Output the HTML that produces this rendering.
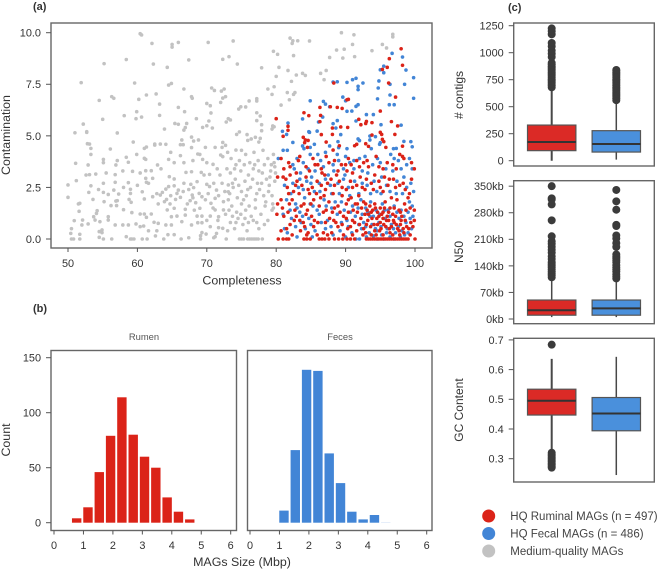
<!DOCTYPE html>
<html lang="en">
<head>
<meta charset="utf-8">
<title>MAGs quality chart</title>
<style>
html,body{margin:0;padding:0;background:#fff;}
svg{display:block;font-family:"Liberation Sans",Arial,sans-serif;}
text{fill:#333;}
</style>
</head>
<body>
<svg id="chart" width="660" height="570" viewBox="0 0 660 570" xmlns="http://www.w3.org/2000/svg">
  <text x="33" y="10" font-size="11" font-weight="bold">(a)</text>
  <text x="33" y="312" font-size="11" font-weight="bold">(b)</text>
  <text x="508" y="11" font-size="11" font-weight="bold">(c)</text>
  <text transform="translate(10,135) rotate(-90)" text-anchor="middle" font-size="12.4">Contamination</text>
  <text x="242" y="284.5" text-anchor="middle" font-size="12.4">Completeness</text>
  <text transform="translate(10,440) rotate(-90)" text-anchor="middle" font-size="12.4">Count</text>
  <text x="242" y="566" text-anchor="middle" font-size="12.4">MAGs Size (Mbp)</text>
  <text x="144" y="340" text-anchor="middle" font-size="9.4" style="fill:#555">Rumen</text>
  <text x="340" y="340" text-anchor="middle" font-size="9.4" style="fill:#555">Feces</text>
  <text transform="translate(463,95) rotate(-90)" text-anchor="middle" font-size="12">&#35; contigs</text>
  <text transform="translate(463,252) rotate(-90)" text-anchor="middle" font-size="12">N50</text>
  <text transform="translate(463,410) rotate(-90)" text-anchor="middle" font-size="12">GC Content</text>
  <g>
    <circle cx="488.7" cy="516" r="6.5" fill="#db2318"/>
    <text x="510.3" y="520" font-size="11.5" style="fill:#444">HQ Ruminal MAGs (n = 497)</text>
    <circle cx="488.7" cy="533.5" r="6.5" fill="#4285d6"/>
    <text x="510.3" y="537.5" font-size="11.5" style="fill:#444">HQ Fecal MAGs (n = 486)</text>
    <circle cx="488.7" cy="551" r="6.5" fill="#c2c2c2"/>
    <text x="510.3" y="555" font-size="11.5" style="fill:#444">Medium-quality MAGs</text>
  </g>
</svg>
<script>
const grayPoints=[[51,5.15],[51.9,7.58],[55.2,8.5],[58.4,8.7],[60.4,9.95],[60.6,9.89],[62.1,9.48],[62.3,8.48],[64.3,8.32],[65,9.43],[65,9.3],[65.9,9.53],[70.2,9.53],[67.4,8.68],[72.3,8.71],[73.2,8.84],[59.6,7.56],[64.5,7.46],[64.9,7.54],[66.7,7.27],[70.7,7.32],[71.1,7.2],[72.1,7.17],[72.5,7.27],[61.3,6.98],[62.7,7.03],[54.5,6.72],[56.3,6.9],[56.6,6.82],[60.2,6.77],[63.2,6.54],[67.8,6.9],[67.9,6.82],[72.3,6.83],[72.7,6.9],[72,6.62],[70,6.57],[70.5,6.46],[65.9,6.38],[66.8,6.17],[70.6,6.11],[59.9,6.17],[58.1,5.98],[63.2,5.99],[60.6,5.91],[59.8,5.83],[55,5.8],[52.2,5.57],[68.5,5.83],[70.3,5.72],[65.4,5.6],[65.9,5.56],[67.1,5.6],[69.4,5.41],[70,5.49],[70.8,5.38],[63.9,5.33],[66.7,5.28],[66.9,5.4],[52.7,5.2],[52.7,5.17],[57.1,5.14],[67.8,4.94],[68.8,4.8],[68.1,4.75],[66.4,4.8],[59.4,4.7],[72.3,4.68],[52.8,4.62],[53.1,4.6],[62.5,4.6],[63.3,4.6],[64.1,4.59],[66.2,4.57],[66.6,4.57],[61,4.39],[61.3,4.46],[53.3,4.39],[56.1,4.36],[62.5,4.55],[67.8,4.43],[69.8,4.44],[71.2,4.44],[72.2,4.44],
[73.8,9.6],[74.4,8.48],[82,9.74],[82.4,9.61],[82.3,9.48],[83.1,9.61],[84.8,9.6],[89.4,10],[91.2,9.9],[96.8,9.92],[96.8,9.8],[91,9.43],[95.3,9.43],[95.9,9.26],[89.8,9.2],[88.7,9.16],[93.8,9.13],[79.6,9.1],[80.2,8.95],[82.5,8.89],[87.7,8.8],[89.6,8.77],[91.3,8.84],[77.9,8.3],[80.4,8.32],[81.7,8.17],[87.2,8.17],[86.4,8.03],[82.9,7.95],[83.8,8.03],[84.2,7.93],[80,7.88],[86.9,7.72],[82.2,7.64],[79.7,7.38],[78.8,7.27],[79.4,7.01],[81.6,7.1],[82.7,7.1],[82.5,7.01],[81.9,6.75],[77.2,6.8],[77.2,6.69],[76.1,6.69],[80.7,6.49],[75.6,6.4],[74.9,6.41],[74.6,6.3],[77.2,6.12],[77.7,5.96],[73.1,5.83],[73.4,5.77],[72.8,5.67],[77.2,5.74],[77.9,5.54],[79.5,5.48],[79.7,5.44],[79.4,5.33],[77.9,5.25],[74.7,5.19],[74.3,5.07],[75.8,5.06],[77.7,4.88],[77,4.93],[76.4,4.85],[75.9,4.78],[77.5,4.7],[72.7,4.54],[74.2,4.31],
[53.3,4.1],[51.1,3.67],[51.2,2.83],[50,2.62],[50,2.02],[52.9,3.59],[55.1,3.86],[55.1,3.7],[57.1,3.8],[56.9,3.59],[58.4,3.96],[58.7,3.72],[59.9,4.1],[61.2,3.86],[61,3.91],[62.9,3.59],[64.5,3.86],[65.3,3.7],[66.2,4.04],[66.7,3.7],[68.7,4.12],[69.4,3.86],[70,3.7],[70.9,3.62],[72,4.07],[72.3,3.99],[52.6,3.1],[53.1,3.12],[54,3.15],[56.8,3.12],[59.3,3.28],[61.2,3.31],[62,3.31],[64.6,3.02],[65.3,2.91],[67,3.23],[67.8,3.26],[69.2,3.23],[69.6,3.1],[70.4,3.13],[56.8,2.75],[55.1,2.7],[53.3,2.58],[58.7,2.73],[61.3,2.75],[61.6,2.7],[62.2,2.94],[61.2,2.94],[53,2.26],[56.6,2.37],[55.1,2.26],[55.8,2.16],[57.3,2.18],[59,2.41],[59,2.21],[60.7,2.29],[64.5,2.54],[65.3,2.58],[64.1,2.42],[63.6,2.26],[63.3,2.13],[65.9,2.37],[65.7,2.21],[66.7,2.7],[67.7,2.65],[68.6,2.78],[68.1,2.49],[70,2.65],[70.4,2.54],[71.4,2.37],[72.2,2.7],[73.1,2.62],[73.1,2.29],[68.9,2.21],[69.3,2.05],[67.9,2.13],[53.6,1.92],[55.2,1.81],[57.1,1.86],[56.9,1.84],[58.8,1.92],[59.1,1.78],[61,1.94],[62.2,2.05],[64.2,1.92],[63.9,1.81],[65.5,1.92],[66.2,2.02],[67.6,1.86],[68.4,1.76],[70.6,1.73],[71.2,1.97],[72.4,1.81],[51.5,1.7],[51.7,1.73],[56.2,1.62],[57,1.62],[58,1.42],[59.2,1.28],[51.6,1.34],[54.2,1.37],[54.1,1.24],[53.7,1.08],[55.8,1.08],[55.8,.92],[60.4,1.21],[61,1.21],[61.3,1.05],[62,1.21],[64.3,1.41],[65.3,1.49],[66.9,1.44],[66.9,1.16],[64.9,1.08],[65.7,1.11],[68.6,1.11],[69.3,1.11],[70.5,1.11],[69,1.49],[71.2,1.41],[72.4,1.41],[71.7,1.08],[53.9,.92],[54.6,.84],[50.9,.89],[52.1,.92],[52,.68],[52.9,.73],[56.8,.68],[57.9,.68],[58.7,.68],[59.8,.73],[60.4,.6],[60.9,.63],[62.4,.81],[63,.76],[64.1,.68],[64.9,.68],[66.4,.84],[67.8,.68],[68.7,.79],[69.3,.79],[70.5,.6],[50.5,.5],[50.4,.27],[51.7,.23],[54.5,.36],[54.9,.44],[54.9,.31],[61.6,.4],[62.8,.4],[62.6,.15],[64.4,.21],[65.3,.21],[69.3,.31],[69.1,.16],[69.9,.24],[71.7,.55],[72.3,.52],[71.2,.11],[71.4,.27],[50.5,0],[50.8,0],[51.7,0],[54.5,.08],[55.1,0],[56.3,0],[58.4,.11],[59,0],[59.2,0],[59.5,0],[60.7,0],[61.4,0],[63.8,0],[66.3,0],[67.4,.06],[69.1,0],[71,.06],[72.8,0],
[73.5,3.9],[74.2,3.6],[75,4.3],[75.6,4.1],[76.2,3.7],[76.8,4.2],[77.4,3.8],[78.1,4.3],[78.8,3.9],[79.3,3.6],[79.6,4.1],[73.4,3.2],[74.1,2.9],[74.9,3.3],[75.5,2.8],[76,3.1],[76.7,3.4],[77.3,2.7],[78,3.2],[78.6,2.9],[79.2,3.3],[79.7,3.7],[79.8,3.5],[73.3,2.2],[73.8,2.5],[74.4,2],[75,2.3],[75.7,2.1],[76.3,2.5],[77,1.9],[77.6,2.4],[78.2,2.1],[79,2.6],[79.5,1.7],[73.6,1.6],[74.3,1.3],[75,1.7],[75.6,1.4],[76.4,1.1],[77,1.5],[77.8,1.2],[78.4,1.6],[79.4,1.4],[79.6,1.5],[73.4,.8],[74,.5],[74.5,1],[75.2,.7],[75.8,.4],[76.7,.9],[77.5,.5],[78.3,.7],[78.8,.9],[74.7,0],[75,0],[75.3,0],[75.9,0],[76.2,0],[76.5,0],[76.8,0],[77.1,0],[77.4,0],[78,0],
[72.9,3.4],[73.1,1.9],[73.7,2.7],[74,3.4],[74.6,2.6],[74.7,3.8],[75.3,1.9],[75.4,3.6],[75.9,2.4],[76.1,1.6],[76.6,2.9],[76.9,3.6],[77.2,2.2],[77.5,3.3],[77.9,2.7],[78.3,3.6],[78.5,1.8],[78.9,2.3],[79.1,3],[79.4,2.1],[79.8,2.8],[79.9,3.2],[72.7,1.2],[73,.4],[73.2,1.4],[73.7,1.1],[74.2,.8],[74.9,1.2],[75.5,1],[76,.8],[77.2,.8],[67.2,1.7],[68.2,1.4],[67.4,2.4],[69.8,1.9],[70.2,2.2],[71,2.7],[71.7,2.1],[71.9,3.1],[72.6,2.3],[70.9,1.5],[71.6,.9],[70,.9],[68,2],[66.6,2.3],[64.8,2.1],[64.7,1.7],[63,1.7],[62.8,2.2],[60,2.6],[58,2.5],[57.9,3.3],[60.4,3.2],[63.4,3.4],[68,3.8],[71.5,3.4],[73,4.2],[69,4.1],[64.8,4.2],[55.5,3.2],[54.4,2.4]];
const bluePoints=[[96.7,9],[98.2,8.82],[98.7,8.19],[95,8.2],[95.5,8.38],[95.5,8.06],[99.8,7.82],[94.8,7.66],[98.5,7.5],[96.4,7.5],[92.5,7.56],[91.8,7.4],[91.8,7.24],[90.2,7.59],[91,7.72],[91.5,7.79],[88.2,7.61],[88.8,7.62],[94.7,7.32],[96.4,6.98],[99.8,6.82],[94.6,6.79],[89.6,6.88],[90,6.7],[84.9,6.7],[86.8,6.67],[87.1,6.54],[87.7,6.41],[91.8,6.51],[91.5,6.43],[90.2,6.19],[90.9,6.2],[96.3,6.51],[97,6.51],[93,6.03],[94,6.03],[83.8,5.82],[86.7,5.91],[86.1,5.67],[88.8,5.74],[88.2,5.59],[88.6,5.38],[91.5,5.72],[95.1,5.54],[98,5.52],[81.7,5.62],[80.9,5.22],[81.5,5.07],[82.4,4.68],[84.7,5.2],[84.8,5.17],[85.9,5.23],[89.3,5.06],[91.8,4.85],[92,4.77],[93.5,4.99],[93.5,4.8],[94.3,4.96],[94.9,4.59],[95,4.67],[98.4,4.73],[99.4,4.72],[99.6,4.47],[83.8,4.51],[84,4.38],[84.9,4.44],[85.5,4.59],[87.7,4.51],[88.9,4.72],[89,4.43],[90.2,4.38],[93.7,4.38],[96.9,4.38],[97.3,4.39],
[80.3,3.9],[81,4.3],[81.6,4.3],[84.9,4.1],[86,4.1],[87.1,4.2],[88.8,4.1],[90,4],[91.2,3.8],[92.8,4],[95,3.7],[96.5,4.1],[97.6,3.8],[98.8,3.6],[99.6,3.4],[82.6,3.4],[83.5,3.2],[85.1,3],[86.8,3.5],[88.3,3.3],[89.9,3.1],[91.2,3.4],[93.2,3.2],[95.2,3],[96.8,3.3],[98.4,3],[81.2,2.6],[82.4,2.7],[83.9,2.4],[85,2.7],[86.3,2.3],[87.8,2.6],[89.1,2.2],[90.4,2.5],[91.9,2.2],[93.1,2.6],[94.5,2.3],[95.9,2.6],[97.3,2.2],[98.8,2.5],[99.4,2.7],[81.5,1.9],[82.8,1.7],[84.1,2],[85.3,1.6],[86.9,1.9],[88,1.5],[89.4,1.8],[91,1.6],[92.2,1.9],[92.9,1.5],[93.6,1.8],[94.4,1.4],[95.3,1.7],[96.1,1.4],[97,1.6],[98,1.4],[99.2,1.8],[99.6,1.6],[81,1.2],[82.2,1],[83.4,1.3],[84.7,1],[86.2,1.2],[87.4,.9],[88.8,1.2],[90.2,.9],[91.4,1.1],[92.6,.8],[93.5,1.1],[94.8,.8],[95.7,1],[96.6,.7],[97.7,1],[98.7,.8],[99.3,1],[81.2,.5],[81.6,.3],[84.2,.5],[85.6,.4],[87.1,.5],[89.2,.4],[90.9,.3],[92.3,.5],[93.4,.3],[94.5,.4],[95.2,.2],[96,.5],[97.2,.3],[98.1,.4],[99,.3],[91.5,0],[92,0],[94.6,0],[95.5,0],[97,0],
[82.4,3.6],[83,3.9],[83.9,3.7],[84.6,3.4],[85.6,3.3],[86.4,3.8],[87.5,3.1],[88.2,3.6],[89,3.8],[89.7,3.4],[90.6,3.7],[92,3.9],[92.4,3.3],[93.9,3.6],[94.6,3.9],[95.8,3.4],[97,3.9],[98,3.4],[99.2,3.9],[82.1,2.2],[83.2,2.5],[83.4,2.9],[84.4,2.8],[85.5,2.3],[86.2,2.7],[87.1,2.9],[88,2.2],[88.9,2.7],[89.7,2.9],[90.6,2.1],[91.3,2.8],[92.4,2.7],[93.6,2.2],[94.1,2.8],[95.1,2.2],[96.4,2.3],[97.4,2.8],[98.2,2.2],[99.8,2.3],[82,1.4],[83,1.5],[83.8,1.1],[84.9,1.7],[85.9,1.4],[87.2,1.6],[88.5,1.8],[89.8,1.4],[90.7,1.3],[91.8,1.5],[92.4,1.2],[93.2,1.3],[94,1.1],[94.9,1.2],[95.6,1.4],[96.4,1.1],[97.4,1.3],[98.4,1.1],[99,1.3],[99.7,1.1],[82.8,.6],[83.6,.8],[85,.7],[86.5,.8],[87.9,.6],[89.4,.8],[90.4,.6],[91.9,.7],[92.9,.6],[93.8,.7],[94.3,.5],[95.1,.6],[95.9,.3],[96.9,.5],[97.6,.6],[98.5,.2],[99.5,.5],[83,.1],[85.2,.1],[88.2,.2],[90,.1],[93,.1],[94,.15],[96.4,.1],[97.9,.1]];
const redPoints=[[98,9.22],[96.3,8.74],[98.2,8.42],[96,8.32],[95.3,8.22],[96.2,7.56],[88.3,7.56],[97.2,6.88],[90.2,6.75],[90.4,6.77],[86.3,6.38],[87.8,6.41],[88.8,6.38],[89.5,6.33],[95,6.2],[84,6.12],[84.7,5.98],[86.4,5.99],[80,5.83],[86.3,5.69],[91.9,5.8],[92.2,5.54],[92.9,5.6],[93,5.7],[93.8,5.64],[96.6,5.69],[97.5,5.48],[81.7,5.46],[81.7,5.27],[89.3,5.43],[90.3,5.41],[88.1,5.38],[86.5,5.06],[88.1,5.07],[81,4.98],[83.9,4.93],[84.2,4.8],[84.1,4.67],[84.6,4.78],[84.5,4.44],[87.2,4.7],[89.1,4.52],[88.2,4.31],[91.3,4.52],[91.6,4.59],[92.9,4.62],[93.3,4.49],[95,5.17],[95.2,5.07],[93.8,5.04],[95.3,4.83],[95.5,4.72],[95.8,4.44],[97.1,5.07],[98.2,4.5],
[80.7,3.9],[81.8,3.7],[82,3.5],[83.2,3.8],[83.4,4],[84.3,3.5],[85.3,3.9],[86,3.6],[87.2,4],[87.6,3.7],[88.4,3.8],[89.4,3.6],[90.4,3.9],[90.8,3.6],[92,3.5],[92.6,3.7],[93.3,3.5],[94.4,4],[95.4,3.4],[96.8,3.6],[97.8,4.1],[98.2,4],[99.9,3.4],[80.2,3],[81,3],[81.4,2.9],[82,3.1],[82.8,2.6],[83.7,2.6],[84.3,3],[85.2,2.5],[85.9,2.8],[86.6,3.2],[87.1,2.4],[87.9,2.9],[88.7,3.1],[89.5,2.5],[90.2,3.3],[90.7,2.8],[91.6,2.6],[92.1,3],[92.8,2.4],[93.7,2.7],[94.2,3.1],[95,2.5],[95.6,3],[96.1,2.6],[96.9,2.9],[97.8,2.6],[98.6,2.4],[99.2,2.2],[80.2,1.7],[80.7,1.9],[81.8,2.2],[82.3,1.9],[83.3,2.2],[84,1.7],[84.8,2.2],[85.4,1.9],[86.2,1.6],[86.9,2.1],[87.6,1.8],[88.2,2.2],[88.9,1.6],[89.5,2.1],[90.1,1.7],[90.8,2],[91.4,1.7],[91.9,2.1],[92.6,1.8],[93.1,1.4],[93.5,1.6],[93.9,1.4],[94.2,1.7],[94.6,1.3],[95,1.5],[95.4,1.3],[95.7,1.8],[96.2,1.3],[96.6,2],[97,1.5],[97.4,1.9],[97.9,1.3],[98.5,1.7],[99,2],[99.9,1.4],[80.1,1.2],[81.1,1.1],[81.7,1.3],[82.6,.9],[83.4,.9],[84.3,1.2],[85.1,1.1],[86,.8],[86.8,1.3],[87.7,1],[88.1,1.3],[88.6,.8],[89.7,1.1],[90.4,1.3],[91,.9],[91.7,1.3],[92.2,1],[92.8,1.2],[93.2,.9],[93.8,1],[94.1,.7],[94.5,1],[95,.8],[95.4,1],[95.8,.6],[96.2,.9],[96.6,.6],[97,.8],[97.5,.5],[97.9,.7],[98.3,.5],[98.8,.6],[99.4,.8],[99.9,.9],[80.7,.4],[81.5,.5],[83.5,.4],[84.1,.6],[84.6,.3],[85.4,.6],[86.8,.3],[88,.3],[88.9,.6],[90.3,.5],[91.6,.4],[92.9,.3],[94.9,.4],[96.4,.3],[97.8,.2],[98.4,.3],[80.3,0],[81,0],[81.5,0],[81.8,0],[84,0],[84.4,0],[84.9,0],[86.2,0],[86.6,0],[87,0],[87.6,0],[88.4,0],[89,0],[89.6,0],[90.2,0],[90.7,0],[91.3,0],[93,0],[93.3,0],[93.6,0],[93.9,0],[94.2,0],[94.5,0],[94.8,0],[95.1,0],[95.4,0],[95.7,0],[96,0],[96.3,0],[96.6,0],[96.9,0],[97.2,0],[97.5,0],[97.8,0],[98.1,0],[98.4,0],[98.7,0],[99,0],[100,0],
[81.1,3.4],[82.9,3.2],[84.8,3.3],[85.6,3.6],[86.5,3.4],[87,3.1],[88.9,3.3],[90,3.6],[91,3.2],[91.6,3.8],[93.1,3.8],[94.8,3.5],[96,3.7],[97.3,3.4],[98.4,3.9],[99.5,3.7],[81.6,2.5],[82.5,2.3],[83,2.8],[84.6,2.4],[85.8,2.2],[86.5,2.6],[87.4,2.7],[88.4,2.6],[89.1,2.8],[90.1,2.4],[91,2.5],[92.4,2.5],[93,2.9],[94,2.4],[94.8,2.8],[95.4,2.3],[96.3,2.9],[97.2,2.5],[98.3,2.7],[99.5,2.9],[80.9,1.5],[81.9,1.7],[82.7,1.4],[83.6,1.6],[84.5,1.4],[85,1.7],[86.4,2],[87.2,1.4],[88.4,1.5],[89.2,1.3],[90.4,1.9],[91.1,1.4],[91.7,1.7],[92.3,1.5],[92.9,1.7],[93.3,1.2],[93.7,1.3],[94.3,1.5],[94.8,1.1],[95.2,1.2],[95.6,1.5],[96,1.1],[96.4,1.5],[96.8,1.2],[97.2,1.1],[97.7,1.4],[98.1,1.1],[98.7,1.4],[99.3,1.5],[82,.7],[82.9,1.1],[83.9,.8],[85.5,.9],[87.1,.8],[88.3,.9],[89.5,.7],[90.1,1],[90.7,.6],[91.3,.8],[92,.7],[92.6,.5],[93,.7],[93.6,.6],[94.2,.4],[94.6,.7],[95.1,.5],[95.5,.7],[95.9,.9],[96.3,.5],[96.9,.9],[97.3,.7],[97.7,.4],[98,.9],[98.6,.9],[99.1,.5],[99.7,.6],[82.3,.2],[84.4,.2],[85.9,.2],[87.4,.2],[89.7,.2],[91,.2],[92.5,.2],[93.7,.2],[94.4,.2],[95.4,.2],[96.8,.2],[99.3,.2]];
const scatterXTicks=[50,60,70,80,90,100];
const scatterYTicks=[0,2.5,5,7.5,10];
const scatterYLabels=["0.0","2.5","5.0","7.5","10.0"];
const histXTicks=[0,1,2,3,4,5,6];
const histYTicks=[0,50,100,150];
const histBinEdges=[0.61,0.994,1.378,1.762,2.146,2.53,2.914,3.298,3.682,4.066,4.45];
const rumenCounts=[4,14,46,79,114,80,60,50,23,10,3];
const fecesCounts=[0,11,66,139,138,63,36,10,3,7,0.6];
const contigsTicks=[0,250,500,750,1000,1250];
const contigsQ1=[93,80];
const contigsMedian=[173,155];
const contigsQ3=[330,278];
const contigsLow=[0,10];
const contigsHigh=[680,550];
const contigsOutliersRed=[680,695,710,725,740,755,770,785,800,815,830,845,860,875,890,905,960,990,1020,1060,1090,1170,1200,1225];
const contigsOutliersBlue=[560,575,590,605,620,635,650,665,680,695,710,725,740,755,770,785,800,815,830,840];
const n50Ticks=[0,70,140,210,280,350];
const n50Labels=["0kb","70kb","140kb","210kb","280kb","350kb"];
const n50Q1=[10,10];
const n50Median=[23,28];
const n50Q3=[50,50];
const n50Low=[5,5];
const n50High=[103,103];
const n50OutliersRed=[350,318,315,302,260,218,205,198,190,182,175,165,158,150,145,140,135,130,125,120,115,110];
const n50OutliersBlue=[340,310,288,248,245,220,212,200,190,170,165,160,155,150,142,135,130,125,118,112,107];
const gcTicks=[0.3,0.4,0.5,0.6,0.7];
const gcQ1=[0.447,0.394];
const gcMedian=[0.495,0.452];
const gcQ3=[0.534,0.506];
const gcLow=[0.33,0.245];
const gcHigh=[0.636,0.643];
const gcOutliersRed=[0.684,0.32,0.315,0.31,0.305,0.3,0.295,0.29,0.285,0.28,0.275,0.27];
const gcOutliersBlue=[];

const NS='http://www.w3.org/2000/svg';
const svg=document.getElementById('chart');
const RED='#db2318',BLUE='#4285d6',GRAY='#c2c2c2',SPINE='#666';
function make(tag,props,parent){
  const el=document.createElementNS(NS,tag);
  for(const k in props){el.setAttribute(k,props[k]);}
  (parent||svg).appendChild(el);
  return el;
}
const xScatter=v=>68+(v-50)*6.94;
const yScatter=v=>239-v*20.63;
const xRumen=v=>54+v*29.45;
const xFeces=v=>250+v*29.45;
const yHist=v=>522.7-v*1.1;
const yContigs=v=>160.7-v*0.108;
const yN50=v=>319-v*0.3795;
const yGC=v=>458.7+(0.3-v)*297;

function frame(name,l,t,r,b){
  const el=make('rect',{x:l,y:t,width:r-l,height:b-t,fill:'none',stroke:SPINE,'stroke-width':1.4});
  
  
}
function xTicks(ticks,scale,bottom,labelY){
  ticks.forEach(v=>{
    const line=make('line',{x1:scale(v),x2:scale(v),y1:bottom,y2:bottom+4,stroke:'#555','stroke-width':1});
    
    
    const label=make('text',{x:scale(v),y:labelY,'text-anchor':'middle','font-size':10.9});
    
    
    label.textContent=String(v);
  });
}
function yTicks(ticks,labels,scale,left){
  ticks.forEach((v,i)=>{
    const line=make('line',{x1:left-5,x2:left,y1:scale(v),y2:scale(v),stroke:'#555','stroke-width':1});
    
    
    const label=make('text',{x:left-10,y:scale(v)+3.9,'text-anchor':'end','font-size':10.9});
    
    
    label.textContent=labels[i];
  });
}
function drawPoints(points,color,name){
  const g=make('g',{fill:color});
  
  
  points.forEach(p=>{
    const c=make('circle',{cx:xScatter(p[0]),cy:yScatter(p[1]),r:1.8},g);
    
    
  });
}
function drawBars(counts,xScale,color,name){
  const g=make('g',{fill:color});
  
  
  counts.forEach((n,i)=>{
    if(n<=0)return;
    const bar=make('rect',{x:xScale(histBinEdges[i]),y:yHist(n),width:9.4,height:yHist(0)-yHist(n),opacity:n<1?0.2:1},g);
    
    
  });
}
function drawBox(center,color,q1,med,q3,low,high,outliers,scale,weight,name){
  const g=make('g',{});
  
  
  const whisker=make('line',{x1:center,x2:center,y1:scale(low),y2:scale(high),stroke:'#484848','stroke-width':weight},g);
  
  
  outliers.forEach(v=>{
    const o=make('circle',{cx:center,cy:scale(v),r:4,fill:'#3b3b3b'},g);
    
    
  });
  const box=make('rect',{x:center-24.2,y:scale(q3),width:48.4,height:scale(q1)-scale(q3),fill:color,stroke:'#555','stroke-width':1.2},g);
  
  
  const median=make('line',{x1:center-24.2,x2:center+24.2,y1:scale(med),y2:scale(med),stroke:'#333','stroke-width':2},g);
  
  
}

/* panel a */
drawPoints(grayPoints,GRAY,'medium-quality-points');
drawPoints(bluePoints,BLUE,'fecal-points');
drawPoints(redPoints,RED,'ruminal-points');
frame('scatter-frame',51,23,432,248);
xTicks(scatterXTicks,xScatter,248,267);
yTicks(scatterYTicks,scatterYLabels,yScatter,51);

/* panel b */
drawBars(rumenCounts,xRumen,RED,'rumen-histogram');
drawBars(fecesCounts,xFeces,BLUE,'feces-histogram');
frame('rumen-frame',51,350.5,236.5,530.5);
frame('feces-frame',247.5,350.5,432,530.5);
xTicks(histXTicks,xRumen,530.5,549);
xTicks(histXTicks,xFeces,530.5,549);
yTicks(histYTicks,histYTicks.map(String),yHist,51);

/* panel c */
const CENTER_RED=551.7,CENTER_BLUE=616.3,BOX_L=513.7,BOX_R=654.3;
drawBox(CENTER_RED,'#db2a26',contigsQ1[0],contigsMedian[0],contigsQ3[0],contigsLow[0],contigsHigh[0],contigsOutliersRed,yContigs,2,'contigs-box-ruminal');
drawBox(CENTER_BLUE,'#4a90dc',contigsQ1[1],contigsMedian[1],contigsQ3[1],contigsLow[1],contigsHigh[1],contigsOutliersBlue,yContigs,1.5,'contigs-box-fecal');
frame('contigs-frame',BOX_L,23,BOX_R,166);
yTicks(contigsTicks,contigsTicks.map(String),yContigs,BOX_L);

drawBox(CENTER_RED,'#db2a26',n50Q1[0],n50Median[0],n50Q3[0],n50Low[0],n50High[0],n50OutliersRed,yN50,1.5,'n50-box-ruminal');
drawBox(CENTER_BLUE,'#4a90dc',n50Q1[1],n50Median[1],n50Q3[1],n50Low[1],n50High[1],n50OutliersBlue,yN50,1.5,'n50-box-fecal');
frame('n50-frame',BOX_L,180.7,BOX_R,323.7);
yTicks(n50Ticks,n50Labels,yN50,BOX_L);

drawBox(CENTER_RED,'#db2a26',gcQ1[0],gcMedian[0],gcQ3[0],gcLow[0],gcHigh[0],gcOutliersRed,yGC,2,'gc-box-ruminal');
drawBox(CENTER_BLUE,'#4a90dc',gcQ1[1],gcMedian[1],gcQ3[1],gcLow[1],gcHigh[1],gcOutliersBlue,yGC,1.5,'gc-box-fecal');
frame('gc-frame',BOX_L,338.3,BOX_R,482);
yTicks(gcTicks,gcTicks.map(v=>v.toFixed(1)),yGC,BOX_L);
</script>
</body>
</html>
